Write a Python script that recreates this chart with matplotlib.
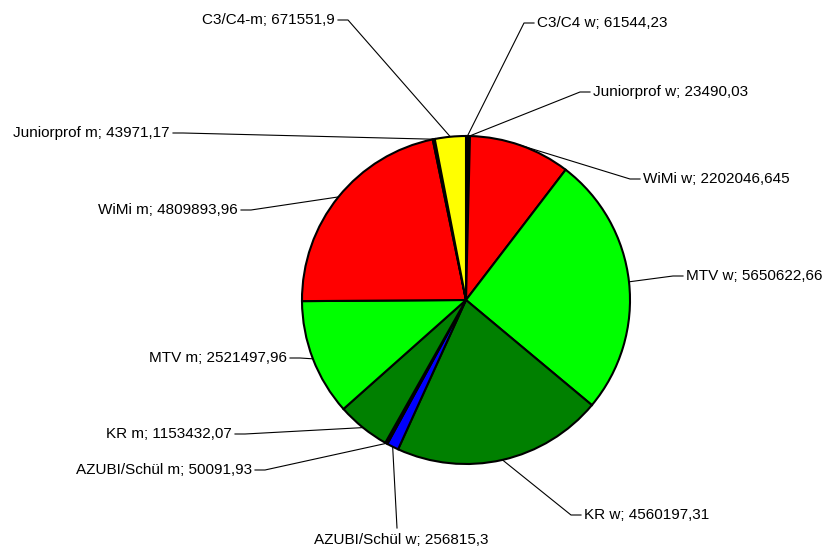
import numpy as np
import matplotlib
matplotlib.use('Agg')
import matplotlib.pyplot as plt

plt.rcParams['font.family'] = ['Liberation Sans', 'DejaVu Sans']

# slices, clockwise from 12 o'clock
labels = ['C3/C4 w', 'Juniorprof w', 'WiMi w', 'MTV w', 'KR w', 'AZUBI/Schül w',
          'AZUBI/Schül m', 'KR m', 'MTV m', 'WiMi m', 'Juniorprof m', 'C3/C4-m']
values = [61544.23, 23490.03, 2202046.645, 5650622.66, 4560197.31, 256815.3,
          50091.93, 1153432.07, 2521497.96, 4809893.96, 43971.17, 671551.9]
value_text = ['61544,23', '23490,03', '2202046,645', '5650622,66', '4560197,31', '256815,3',
              '50091,93', '1153432,07', '2521497,96', '4809893,96', '43971,17', '671551,9']
colors = ['#000000', '#000000', '#FF0000', '#00FF00', '#008000', '#0000FF',
          '#000000', '#008000', '#00FF00', '#FF0000', '#000000', '#FFFF00']

# label text positions in pixels (x, y from top), and alignment
label_pos = [(537, 23), (593, 92), (643, 179), (686, 276), (584, 515), (397, 533),
             (252, 470), (232, 434), (287, 358), (238, 210), (170, 133), (335, 20)]
label_ha = ['left', 'left', 'left', 'left', 'left', 'center',
            'right', 'right', 'right', 'right', 'right', 'right']

W, H = 824, 550
cx, cy, r = 466, H - 300, 164

fig = plt.figure(figsize=(W / 100, H / 100), dpi=100)
ax = fig.add_axes([0, 0, 1, 1])
ax.set_xlim(0, W)
ax.set_ylim(0, H)
ax.axis('off')

wedges, _ = ax.pie(values, colors=colors, startangle=90, counterclock=False,
                   center=(cx, cy), radius=r,
                   wedgeprops=dict(edgecolor='black', linewidth=1.5))
ax.set_xlim(0, W)
ax.set_ylim(0, H)
ax.set_aspect('equal')

for w, lab, vt, (tx, ty), ha in zip(wedges, labels, value_text, label_pos, label_ha):
    ang = np.deg2rad((w.theta1 + w.theta2) / 2)
    px, py = cx + r * np.cos(ang), cy + r * np.sin(ang)
    ty = H - ty
    if ha == 'left':
        pts = [(px, py), (tx - 13, ty), (tx - 3, ty)]
        ax.text(tx, ty, lab + '; ' + vt, ha='left', va='center', fontsize=11)
    elif ha == 'right':
        pts = [(px, py), (tx + 13, ty), (tx + 3, ty)]
        ax.text(tx, ty, lab + '; ' + vt, ha='right', va='center', fontsize=11)
    else:
        pts = [(px, py), (tx, ty + 5)]
        ax.text(tx + 4, ty, lab + '; ' + vt, ha='center', va='top', fontsize=11)
    xs, ys = zip(*pts)
    ax.plot(xs, ys, color='black', linewidth=0.8, zorder=0)

plt.savefig('out.png', dpi=100)
plt.close()
